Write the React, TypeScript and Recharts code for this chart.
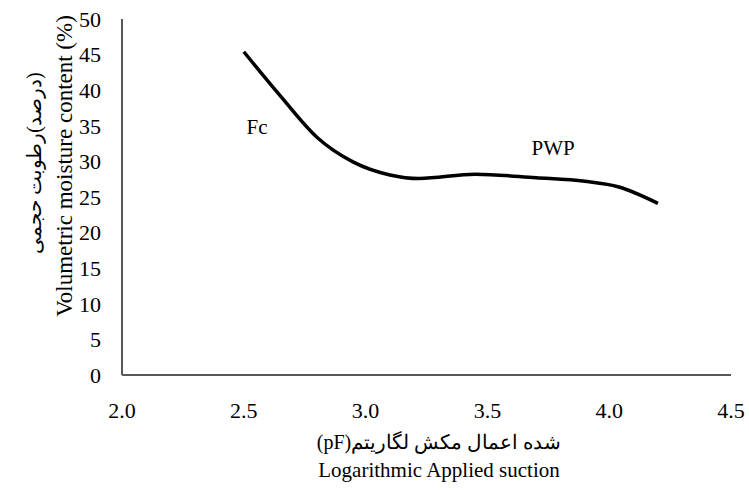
import React from 'react';
import { LineChart, Line, XAxis, YAxis, ReferenceDot } from 'recharts';

// suction (pF) and volumetric moisture (%)
const suction = [2.5, 2.65, 2.8, 2.95, 3.1, 3.22, 3.45, 3.7, 3.9, 4.04, 4.2];
const moisture = [45.4, 39.2, 33.4, 29.9, 28.1, 27.6, 28.2, 27.7, 27.2, 26.4, 24.1];

const xTicks = [2.0, 2.5, 3.0, 3.5, 4.0, 4.5];
const yTicks = [0, 5, 10, 15, 20, 25, 30, 35, 40, 45, 50];

const fcPoint = { x: 2.554, y: 34.9, text: 'Fc' };
const pwpPoint = { x: 3.77, y: 32.0, text: 'PWP' };

const data = suction.map((s, i) => ({ pf: s, theta: moisture[i] }));

const FONT = "'Liberation Serif', 'Times New Roman', serif";
const AXIS = '#595959';
const LRM = '\u200E';

// visual order left→right, kept with LRM marks so bidi does not reorder the words
const yTitleFa = ['حجمی', ' ', 'رطوبت', '(', 'درصد', ')'].join(LRM);
const xTitleFa = ['(pF)', 'لگاریتم', ' ', 'مکش', ' ', 'اعمال', ' ', 'شده'].join(LRM);

const YTitle = () => (
  <g fontFamily={FONT} fill="#000">
    <text
      x={64}
      y={166}
      fontSize={23}
      textAnchor="middle"
      dominantBaseline="central"
      transform="rotate(-90 64 166)"
    >
      Volumetric moisture content (%)
    </text>
    <text
      x={34}
      y={163}
      fontSize={20}
      textAnchor="middle"
      dominantBaseline="central"
      transform="rotate(-90 34 163)"
    >
      {yTitleFa}
    </text>
  </g>
);

const XTitle = () => (
  <g fontFamily={FONT} fill="#000">
    <text x={439} y={442} fontSize={20} textAnchor="middle" dominantBaseline="central">
      {xTitleFa}
    </text>
    <text x={439} y={470} fontSize={21} textAnchor="middle" dominantBaseline="central">
      Logarithmic Applied suction
    </text>
  </g>
);

export default function App() {
  return (
    <div style={{ position: 'absolute', left: 0, top: 0, background: '#fff' }}>
      <LineChart width={749} height={491} data={data} margin={{ top: 19, right: 18, left: 0, bottom: 0 }}>
        <XAxis
          type="number"
          dataKey="pf"
          domain={[2, 4.5]}
          ticks={xTicks}
          tickFormatter={(v) => v.toFixed(1)}
          height={116}
          tickLine={false}
          tickSize={0}
          tickMargin={27}
          axisLine={{ stroke: AXIS, strokeWidth: 2 }}
          tick={{ fontSize: 22, fill: '#000', fontFamily: FONT }}
          label={<XTitle />}
        />
        <YAxis
          type="number"
          domain={[0, 50]}
          ticks={yTicks}
          width={122}
          tickLine={false}
          tickSize={0}
          tickMargin={21}
          axisLine={{ stroke: AXIS, strokeWidth: 2 }}
          tick={{ fontSize: 22, fill: '#000', fontFamily: FONT }}
          label={<YTitle />}
        />
        <Line
          type="monotone"
          dataKey="theta"
          stroke="#000"
          strokeWidth={3.5}
          dot={false}
          activeDot={false}
          isAnimationActive={false}
        />
        <ReferenceDot
          x={fcPoint.x}
          y={fcPoint.y}
          r={0}
          label={{ value: fcPoint.text, position: 'center', fontSize: 21, fill: '#000', fontFamily: FONT }}
        />
        <ReferenceDot
          x={pwpPoint.x}
          y={pwpPoint.y}
          r={0}
          label={{ value: pwpPoint.text, position: 'center', fontSize: 21, fill: '#000', fontFamily: FONT }}
        />
      </LineChart>
    </div>
  );
}
